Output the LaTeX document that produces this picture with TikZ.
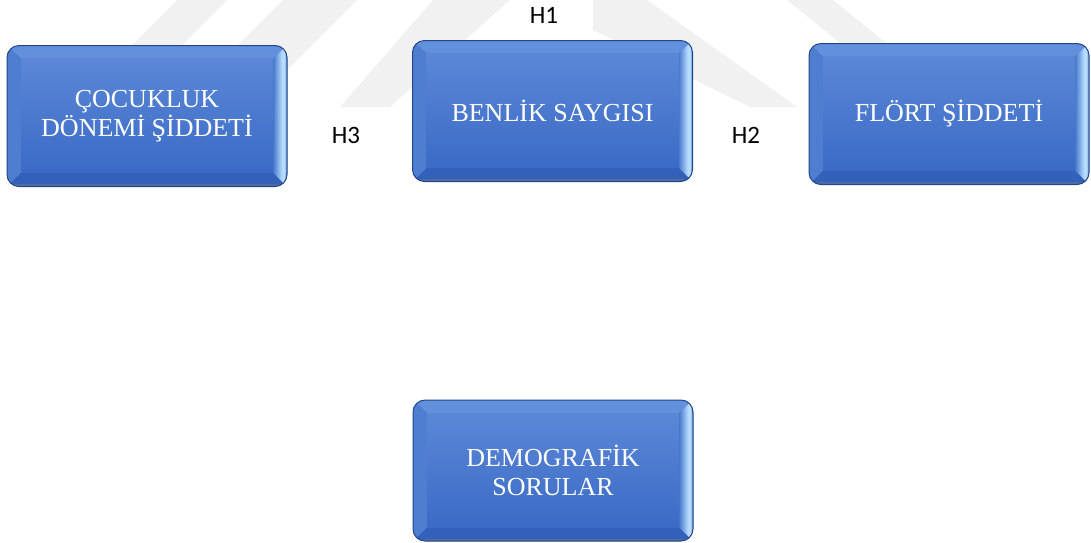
\documentclass[tikz,border=0pt]{standalone}
\usepackage{fontspec}
\setmainfont{Liberation Serif}
\newfontfamily\labelfont{Carlito}
\definecolor{facetop}{HTML}{5B87D6}
\definecolor{facebot}{HTML}{3B6BC6}
\definecolor{edgecol}{HTML}{23468A}
\definecolor{lbev}{HTML}{4F7ED0}
\definecolor{lhi}{HTML}{A6CEF8}
\definecolor{tbev}{HTML}{6390DC}
\definecolor{bbev}{HTML}{3360B8}
\definecolor{rA}{HTML}{4677CB}
\definecolor{rB}{HTML}{B6DDFF}
\definecolor{rC}{HTML}{3F6CC0}
\definecolor{wmark}{HTML}{F1F1F1}
\pgfdeclarehorizontalshading{rbev}{100bp}{color(0bp)=(rA); color(25bp)=(rA); color(58bp)=(rB); color(66bp)=(rB); color(75bp)=(rC); color(100bp)=(rC)}
\tikzset{
  bevbox/.style={rectangle, rounded corners=12pt, minimum width=280pt, minimum height=141pt,
    inner sep=0pt, draw=edgecol, line width=1pt, text=white, align=center,
    font=\fontsize{26}{29}\selectfont},
  hlabel/.style={font=\labelfont\fontsize{25}{28}\selectfont, text=black, inner sep=0pt},
  wm/.style={fill=wmark, draw=none}
}
\newcommand{\bevelbg}[2]{%
  \begin{scope}[shift={(#1,#2)}]
    \clip[rounded corners=12pt] (-140pt,-70.5pt) rectangle (140pt,70.5pt);
    \fill[facebot] (-140pt,-70.5pt) rectangle (140pt,70.5pt);
    \fill[bbev] (-140pt,-70.5pt) -- (140pt,-70.5pt) -- (126pt,-56.5pt) -- (-126pt,-56.5pt) -- cycle;
    \fill[tbev] (-140pt,70.5pt) -- (140pt,70.5pt) -- (126pt,57.5pt) -- (-126pt,57.5pt) -- cycle;
    \fill[lbev] (-140pt,-70.5pt) -- (-126pt,-56.5pt) -- (-126pt,57.5pt) -- (-140pt,70.5pt) -- cycle;
    \shade[top color=lhi, bottom color=lhi!50!lbev] (-126pt,-54.5pt) -- (-121pt,-46.5pt) -- (-121pt,47.5pt) -- (-126pt,55.5pt) -- cycle;
    \shade[shading=rbev] (140pt,-70.5pt) -- (126pt,-56.5pt) -- (126pt,57.5pt) -- (140pt,70.5pt) -- cycle;
    \shade[top color=facetop, bottom color=facebot] (-126pt,-56.5pt) rectangle (126pt,57.5pt);
    \fill[edgecol!80] (-140pt,-70.5pt) rectangle (140pt,-68pt);
  \end{scope}}
\begin{document}
\begin{tikzpicture}[x=1pt, y=-1pt]
\useasboundingbox (0,0) rectangle (1091,542);
\fill[white] (0,0) rectangle (1091,542);
% watermark
\path[wm] (177,0) -- (227,0) -- (120,107) -- (70,107) -- cycle;
\path[wm] (283,0) -- (357,0) -- (250,107) -- (176,107) -- cycle;
\path[wm] (433,0) -- (510,0) -- (390,107) -- (340,107) -- cycle;
\path[wm] (532,0) -- (647,0) -- (797,107) -- (750,107) -- cycle;
\path[wm] (787,0) -- (833,0) -- (965,107) -- (919,107) -- cycle;
\fill[white] (520,0) rectangle (593,30);
% boxes
\bevelbg{147}{116}
\bevelbg{552.5}{111}
\bevelbg{949}{114}
\bevelbg{553}{470.5}
\node[bevbox] (cocuk) at (147,116) {ÇOCUKLUK\\DÖNEMİ ŞİDDETİ};
\node[bevbox] (benlik) at (552.5,111) {BENLİK SAYGISI};
\node[bevbox] (flort) at (949,114) {FLÖRT ŞİDDETİ};
\node[bevbox] (demo) at (553,470.5) {DEMOGRAFİK\\SORULAR};
% labels
\node[hlabel] (h1) at (544,15) {H1};
\node[hlabel] (h3) at (346,135) {H3};
\node[hlabel] (h2) at (746,135) {H2};
\end{tikzpicture}
\end{document}
